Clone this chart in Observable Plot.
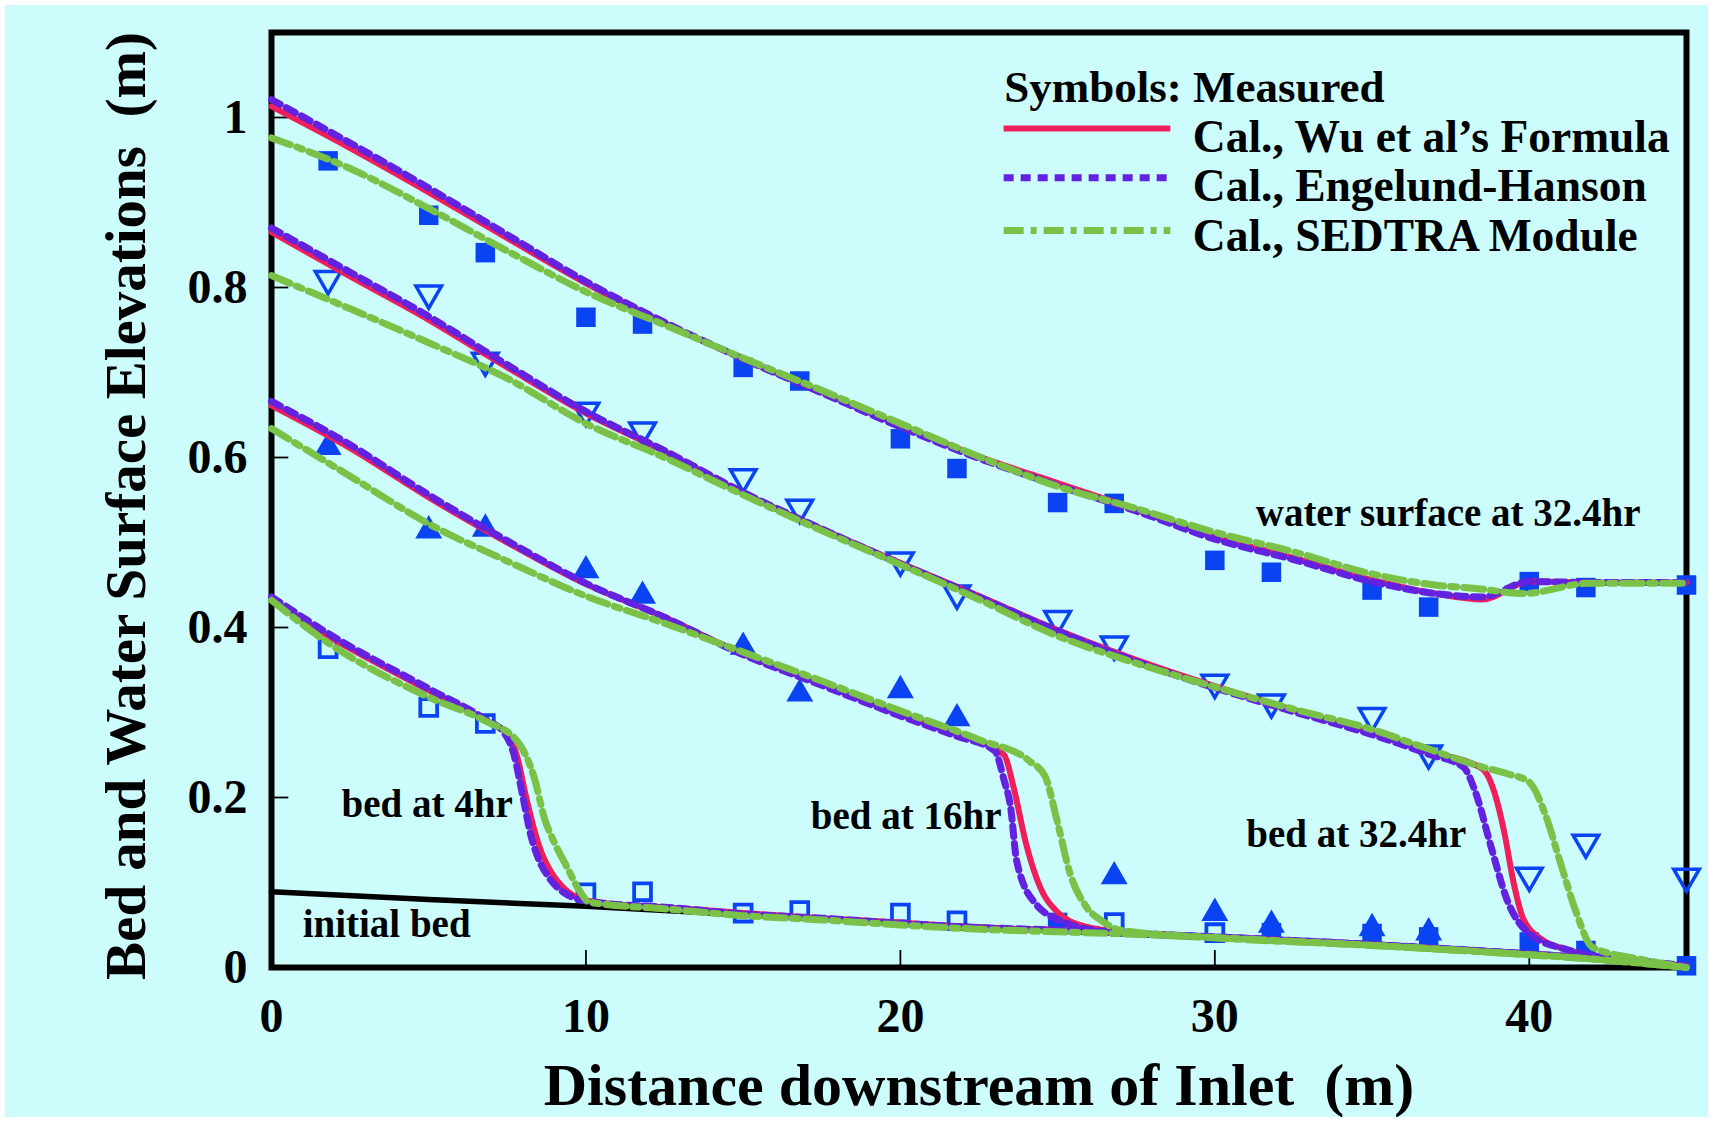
<!DOCTYPE html>
<html>
<head>
<meta charset="utf-8">
<script src="https://cdn.jsdelivr.net/npm/d3@7"></script>
<script src="https://cdn.jsdelivr.net/npm/@observablehq/plot@0.6"></script>
<style>
  html, body { margin: 0; padding: 0; background: #ffffff; }
  #chart { position: absolute; left: 5px; top: 5px; }
  #chart svg { display: block; }
</style>
</head>
<body>
<div id="chart"></div>
<script>
// ---- axes ----
const X_TICKS = [0, 10, 20, 30, 40];
const Y_TICKS = [0, 0.2, 0.4, 0.6, 0.8, 1];
const X_TITLE = "Distance downstream of Inlet\u00a0 (m)";
const Y_TITLE = "Bed and Water Surface Elevations\u00a0 (m)";

// ---- measured elevations (m) ----
const measX = [1.8, 5, 6.8, 10, 11.8, 15, 16.8, 20, 21.8, 25, 26.8, 30, 31.8, 35, 36.8, 40, 41.8, 45];
const measWater32 = [0.949, 0.885, 0.841, 0.765, 0.757, 0.706, 0.690, 0.622, 0.587, 0.547, 0.546, 0.479, 0.465, 0.444, 0.424, 0.454, 0.447, 0.450];
const measBed32 = [0.810, 0.793, 0.714, 0.655, 0.632, 0.577, 0.541, 0.479, 0.440, 0.410, 0.380, 0.335, 0.312, 0.296, 0.252, 0.108, 0.147, 0.107];
const measBed16X = [1.8, 5, 6.8, 10, 11.8, 15, 16.8, 20, 21.8, 26.8, 30, 31.8, 35, 36.8];
const measBed16 = [0.612, 0.514, 0.516, 0.467, 0.437, 0.377, 0.322, 0.326, 0.293, 0.107, 0.064, 0.050, 0.046, 0.041];
const measBed4X = [1.8, 5, 6.8, 10, 11.8, 15, 16.8, 20, 21.8, 26.8, 30];
const measBed4 = [0.375, 0.306, 0.287, 0.088, 0.089, 0.064, 0.067, 0.064, 0.055, 0.053, 0.041];
const measBedLowX = [25, 31.8, 35, 36.8, 40, 41.8, 45];
const measBedLow = [0.053, 0.041, 0.040, 0.036, 0.030, 0.020, 0.002];

// ---- initial bed ----
const initBedX = [0, 5, 10, 15, 20, 25, 30, 35, 40, 42, 45];
const initBed = [0.089, 0.080, 0.072, 0.062, 0.052, 0.043, 0.035, 0.026, 0.015, 0.010, 0.000];

// ---- calculated water surface at 32.4 hr ----
const wsX = [0, 2.5, 5, 7.5, 10, 12.5, 15, 17.5, 20, 22.5, 25, 27.5, 30, 32.5, 35, 37, 38.5, 40, 42, 45];
const wsWu = [1.013, 0.964, 0.912, 0.858, 0.805, 0.758, 0.716, 0.677, 0.638, 0.601, 0.570, 0.539, 0.507, 0.482, 0.456, 0.440, 0.433, 0.454, 0.453, 0.453];
const wsEH = [1.021, 0.970, 0.917, 0.862, 0.807, 0.759, 0.716, 0.676, 0.636, 0.599, 0.567, 0.537, 0.504, 0.480, 0.454, 0.440, 0.436, 0.454, 0.453, 0.453];
const wsSedX = [0, 2.5, 5, 7.5, 10, 12.5, 15, 17.5, 20, 22.5, 25, 27.5, 30, 32.5, 35, 37, 38.3, 39.8, 41.9, 45];
const wsSed = [0.976, 0.940, 0.893, 0.843, 0.795, 0.756, 0.717, 0.679, 0.640, 0.601, 0.566, 0.540, 0.512, 0.489, 0.463, 0.450, 0.446, 0.440, 0.452, 0.452];

// ---- calculated bed at 32.4 hr ----
const bed32X = [0, 2.5, 5, 7.5, 10, 12.5, 15, 17.5, 20, 22.5, 25, 27.5, 30, 32.5, 35, 36.8, 38.5, 38.9, 39.2, 39.5, 39.8, 40.4, 41.2, 42, 43.5, 45];
const bed32Wu = [0.865, 0.813, 0.762, 0.706, 0.652, 0.607, 0.558, 0.516, 0.476, 0.437, 0.397, 0.362, 0.331, 0.303, 0.277, 0.254, 0.234, 0.205, 0.160, 0.100, 0.058, 0.033, 0.021, 0.013, 0.007, 0.001];
const bed32EHX = [0, 2.5, 5, 7.5, 10, 12.5, 15, 17.5, 20, 22.5, 25, 27.5, 30, 32.5, 35, 36.8, 37.9, 38.3, 38.8, 39.3, 40, 41.2, 42, 43.5, 45];
const bed32EH = [0.870, 0.818, 0.766, 0.709, 0.654, 0.608, 0.559, 0.516, 0.475, 0.436, 0.396, 0.360, 0.329, 0.301, 0.274, 0.251, 0.236, 0.205, 0.140, 0.079, 0.040, 0.021, 0.014, 0.008, 0.002];
const bed32SedX = [0, 2.5, 5, 7.5, 10, 12.5, 15, 17.5, 20, 22.5, 25, 27.5, 30, 32.5, 35, 36.8, 38.5, 39.3, 40, 40.5, 41, 41.5, 42, 43.5, 45];
const bed32Sed = [0.814, 0.775, 0.735, 0.693, 0.640, 0.600, 0.556, 0.514, 0.474, 0.433, 0.390, 0.358, 0.330, 0.304, 0.280, 0.257, 0.236, 0.228, 0.218, 0.181, 0.122, 0.064, 0.024, 0.010, 0.000];

// ---- calculated bed at 16 hr ----
const bed16X = [0, 2.5, 5, 7.5, 10, 12.5, 15, 17.5, 20, 21.8, 23.3, 23.6, 24.0, 24.45, 25.0, 25.9, 27, 30, 35, 40, 42, 45];
const bed16Wu = [0.661, 0.611, 0.553, 0.500, 0.451, 0.412, 0.369, 0.334, 0.298, 0.275, 0.250, 0.212, 0.145, 0.094, 0.065, 0.048, 0.042, 0.036, 0.027, 0.016, 0.011, 0.001];
const bed16EHX = [0, 2.5, 5, 7.5, 10, 12.5, 15, 17.5, 20, 21.8, 23.0, 23.3, 23.5, 23.7, 24.3, 25.3, 26.3, 27, 30, 35, 40, 42, 45];
const bed16EH = [0.666, 0.615, 0.556, 0.502, 0.452, 0.412, 0.368, 0.332, 0.296, 0.272, 0.255, 0.220, 0.190, 0.125, 0.075, 0.052, 0.043, 0.041, 0.036, 0.027, 0.016, 0.011, 0.001];
const bed16SedX = [0, 2.5, 5, 7.5, 10, 12.5, 15, 17.5, 20, 22.5, 24.1, 24.6, 25.0, 25.4, 25.9, 26.4, 27, 30, 35, 40, 42, 45];
const bed16Sed = [0.634, 0.578, 0.522, 0.478, 0.437, 0.405, 0.371, 0.337, 0.302, 0.268, 0.243, 0.225, 0.170, 0.110, 0.072, 0.055, 0.044, 0.035, 0.026, 0.015, 0.010, 0.000];

// ---- calculated bed at 4 hr ----
const bed4X = [0, 1.8, 5, 6.8, 7.5, 7.8, 8.1, 8.35, 8.6, 8.9, 9.4, 9.8, 10.5, 12.5, 15, 17.5, 20, 22.5, 25, 27.5, 30, 35, 40, 42, 45];
const bed4Wu = [0.432, 0.390, 0.326, 0.291, 0.275, 0.250, 0.200, 0.163, 0.134, 0.112, 0.090, 0.081, 0.076, 0.071, 0.064, 0.058, 0.053, 0.047, 0.044, 0.040, 0.036, 0.027, 0.016, 0.011, 0.002];
const bed4EHX = [0, 1.8, 5, 6.8, 7.4, 7.7, 8.0, 8.25, 8.5, 8.8, 9.3, 9.8, 10.5, 12.5, 15, 17.5, 20, 22.5, 25, 27.5, 30, 35, 40, 42, 45];
const bed4EH = [0.436, 0.393, 0.328, 0.292, 0.276, 0.252, 0.200, 0.155, 0.127, 0.107, 0.088, 0.080, 0.076, 0.071, 0.063, 0.058, 0.052, 0.047, 0.044, 0.040, 0.036, 0.027, 0.016, 0.011, 0.002];
const bed4SedX = [0, 1.8, 5, 6.8, 7.8, 8.35, 8.7, 8.97, 9.4, 9.8, 10.1, 12.5, 15, 17.5, 20, 22.5, 25, 27.5, 30, 35, 40, 42, 45];
const bed4Sed = [0.432, 0.382, 0.318, 0.290, 0.267, 0.224, 0.173, 0.149, 0.118, 0.090, 0.077, 0.069, 0.061, 0.056, 0.050, 0.045, 0.042, 0.039, 0.035, 0.026, 0.015, 0.010, 0.000];

// ---- text ----
const legendTitle = "Symbols: Measured";
const legendLabels = ["Cal., Wu et al\u2019s Formula", "Cal., Engelund-Hanson", "Cal., SEDTRA Module"];
const curveLabels = ["water surface at 32.4hr", "bed at 32.4hr", "bed at 16hr", "bed at 4hr", "initial bed"];

// ---- styling ----
const FONT = "'Liberation Serif', 'Times New Roman', serif";
const BG = "#ccfcfc";
const BLUE = "#0a44f2";
const RED = "#ef1f5c";
const PURPLE = "#6322e0";
const GREEN = "#79c247";
const styles = [
  {stroke: RED, strokeWidth: 6},
  {stroke: PURPLE, strokeWidth: 7, strokeDasharray: "10,7"},
  {stroke: GREEN, strokeWidth: 7, strokeDasharray: "20,7,6,7"}
];

const pts = (xs, ys) => xs.map((x, i) => ({x, y: ys[i]}));

const model = [
  [[wsX, wsWu], [bed32X, bed32Wu], [bed16X, bed16Wu], [bed4X, bed4Wu]],
  [[wsX, wsEH], [bed32EHX, bed32EH], [bed16EHX, bed16EH], [bed4EHX, bed4EH]],
  [[wsSedX, wsSed], [bed32SedX, bed32Sed], [bed16SedX, bed16Sed], [bed4SedX, bed4Sed]]
];

const lineMarks = model.flatMap((group, k) =>
  group.map(([xs, ys]) => Plot.line(pts(xs, ys), {x: "x", y: "y", curve: "monotone-x", ...styles[k]}))
);

// legend placement (data units)
const legX0 = 23.3, legX1 = 28.6, legTextX = 29.3;
const legLineY = [0.987, 0.929, 0.867];
const legTextY = [0.977, 0.919, 0.860];
const labelX = [31.3, 31.0, 17.15, 2.23, 0.99];
const labelY = [0.534, 0.156, 0.178, 0.192, 0.051];

const chart = Plot.plot({
  width: 1703,
  height: 1112,
  marginLeft: 266,
  marginRight: 22,
  marginTop: 27,
  marginBottom: 150,
  style: {background: BG, fontFamily: FONT, color: "black"},
  x: {domain: [0, 45]},
  y: {domain: [0, 1.1]},
  marks: [
    Plot.frame({stroke: "black", strokeWidth: 6}),
    Plot.ruleX(X_TICKS.slice(1), {x: d => d, y1: 0, y2: 0.02, stroke: "black", strokeWidth: 1.8}),
    Plot.ruleY(Y_TICKS.slice(1), {y: d => d, x1: 0, x2: 0.55, stroke: "black", strokeWidth: 1.8}),
    Plot.axisX({ticks: X_TICKS, tickSize: 0, tickPadding: 30, tickFormat: d => String(d),
      fontSize: 48, fontWeight: "bold", fontFamily: FONT, label: null}),
    Plot.axisY({ticks: Y_TICKS, tickSize: 0, tickPadding: 24, tickFormat: d => String(d),
      fontSize: 48, fontWeight: "bold", fontFamily: FONT, label: null}),
    Plot.text([X_TITLE], {text: d => d, frameAnchor: "bottom", dy: 118, lineAnchor: "middle",
      fontSize: 60, fontWeight: "bold", fontFamily: FONT}),
    Plot.text([Y_TITLE], {text: d => d, frameAnchor: "left", dx: -145, dy: 6, rotate: -90,
      textAnchor: "middle", lineAnchor: "middle",
      fontSize: 57, fontWeight: "bold", fontFamily: FONT}),

    // measured symbols
    Plot.dot(pts(measX, measWater32), {x: "x", y: "y", symbol: "square", r: 11, fill: BLUE, stroke: "none"}),
    Plot.dot(pts(measX, measBed32), {x: "x", y: "y", symbol: "triangle", rotate: 180, r: 9.5, fill: "none", stroke: BLUE, strokeWidth: 3.5}),
    Plot.dot(pts(measBed16X, measBed16), {x: "x", y: "y", symbol: "triangle", r: 10, fill: BLUE, stroke: "none"}),
    Plot.dot(pts(measBed4X, measBed4), {x: "x", y: "y", symbol: "square", r: 9.5, fill: "none", stroke: BLUE, strokeWidth: 3.8}),
    Plot.dot(pts(measBedLowX, measBedLow), {x: "x", y: "y", symbol: "square", r: 11, fill: BLUE, stroke: "none"}),

    // initial bed and calculated profiles
    Plot.line(pts(initBedX, initBed), {x: "x", y: "y", stroke: "black", strokeWidth: 5.5}),
    ...lineMarks,

    // curve labels
    Plot.text(curveLabels, {x: (d, i) => labelX[i], y: (d, i) => labelY[i], text: d => d, textAnchor: "start",
      lineAnchor: "middle", fontSize: 39, fontWeight: "bold", fontFamily: FONT, fill: "black"}),

    // legend
    Plot.text([legendTitle], {x: legX0, y: 1.035, text: d => d, textAnchor: "start", lineAnchor: "middle",
      fontSize: 45, fontWeight: "bold", fontFamily: FONT, fill: "black"}),
    ...legendLabels.map((lab, k) =>
      Plot.ruleY([legLineY[k]], {y: d => d, x1: legX0, x2: legX1, ...styles[k]})
    ),
    Plot.text(legendLabels, {x: legTextX, y: (d, i) => legTextY[i], text: d => d, textAnchor: "start",
      lineAnchor: "middle", fontSize: 45.5, fontWeight: "bold", fontFamily: FONT, fill: "black"})
  ]
});

document.getElementById("chart").appendChild(chart);
</script>
</body>
</html>
